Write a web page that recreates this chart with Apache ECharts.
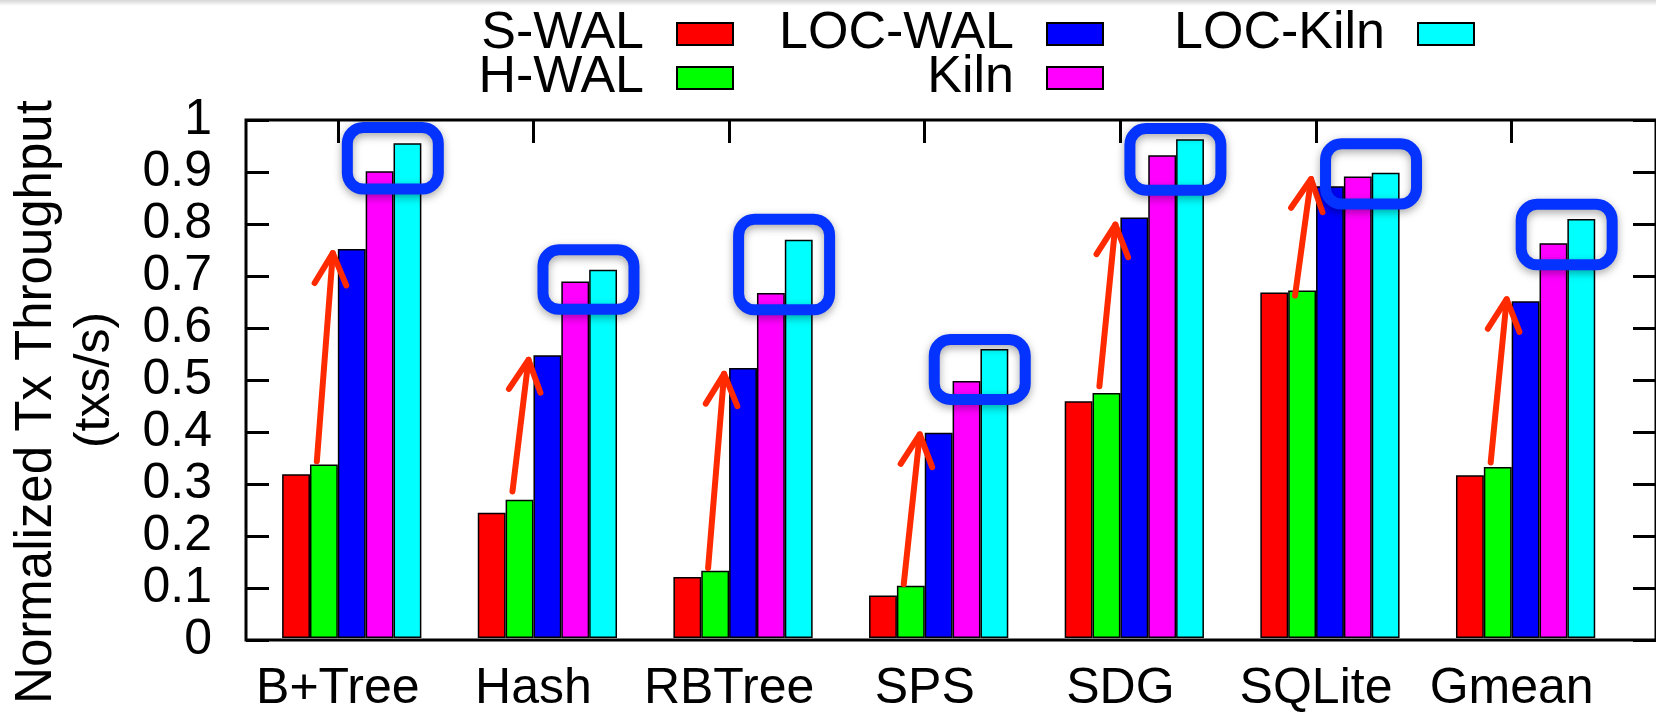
<!DOCTYPE html>
<html>
<head>
<meta charset="utf-8">
<script src="https://cdn.jsdelivr.net/npm/echarts@6/dist/echarts.min.js"></script>
<style>
html,body{margin:0;padding:0;background:#fff;}
#main{width:1656px;height:714px;}
</style>
</head>
<body>
<div id="main"></div>
<script>
// data
var categories = ['B+Tree', 'Hash', 'RBTree', 'SPS', 'SDG', 'SQLite', 'Gmean'];
var sWal    = [0.316, 0.242, 0.118, 0.082, 0.457, 0.667, 0.314];
var hWal    = [0.335, 0.267, 0.130, 0.101, 0.473, 0.671, 0.330];
var locWal  = [0.751, 0.546, 0.521, 0.396, 0.812, 0.872, 0.650];
var kiln    = [0.901, 0.688, 0.666, 0.496, 0.932, 0.891, 0.762];
var locKiln = [0.955, 0.711, 0.769, 0.558, 0.963, 0.898, 0.809];

// annotations (in data units): red arrows and blue boxes
var arrowFrom = [0.341, 0.283, 0.135, 0.104, 0.486, 0.661, 0.339];
var arrowTo   = [0.743, 0.537, 0.510, 0.393, 0.798, 0.886, 0.654];
var boxTop    = [0.996, 0.760, 0.819, 0.587, 0.994, 0.965, 0.848];
var boxBottom = [0.856, 0.624, 0.623, 0.450, 0.854, 0.827, 0.710];

var font = '"Liberation Sans", Arial, Helvetica, sans-serif';
var barW = 27.85;

function barSeries(name, data, color) {
    return {
        name: name, type: 'bar', xAxisIndex: 0, yAxisIndex: 0,
        data: data, barWidth: barW, barGap: '0%',
        itemStyle: {color: color, borderColor: '#000', borderWidth: 1.5},
        emphasis: {disabled: true}
    };
}

function legendItem(name, right, top) {
    return {
        data: [name], right: right, top: top, align: 'right', icon: 'rect',
        itemWidth: 56, itemHeight: 22, padding: 0, selectedMode: false,
        textStyle: {fontSize: 52, fontFamily: font, color: '#000', lineHeight: 50, padding: [0, 28, 0, 0]}
    };
}

var myChart = echarts.init(document.getElementById('main'));
var option = {
    animation: false,
    backgroundColor: '#fff',
    legend: [
        legendItem('S-WAL', 922, 8),
        legendItem('H-WAL', 922, 52),
        legendItem('LOC-WAL', 552, 8),
        legendItem('Kiln', 552, 52),
        legendItem('LOC-Kiln', 181, 8)
    ],
    grid: [
        {left: 240, right: 46.5, top: 120, bottom: 74},
        {left: 242, right: -2, top: 120, bottom: 74, show: true,
         borderColor: '#000', borderWidth: 3, backgroundColor: 'transparent'}
    ],
    xAxis: [
        {type: 'category', gridIndex: 0, data: categories, position: 'bottom',
         axisLine: {show: false}, axisTick: {show: false},
         axisLabel: {interval: 0, fontSize: 50, fontFamily: font, color: '#000', margin: 26}},
        {type: 'category', gridIndex: 0, data: categories, position: 'top',
         axisLine: {show: false}, axisLabel: {show: false},
         axisTick: {show: true, interval: 0, inside: true, length: 23, alignWithLabel: true,
                    lineStyle: {color: '#000', width: 3}}},
        {type: 'value', gridIndex: 1, show: false, min: 0, max: 1}
    ],
    yAxis: [
        {type: 'value', gridIndex: 0, min: 0, max: 1, show: false},
        {type: 'value', gridIndex: 1, min: 0, max: 1, interval: 0.1, position: 'left',
         axisLine: {show: false}, splitLine: {show: false},
         axisTick: {show: true, inside: true, length: 23, lineStyle: {color: '#000', width: 3}},
         axisLabel: {fontSize: 50, fontFamily: font, color: '#000', margin: 34},
         name: '{a|Normalized Tx Throughput}\n{b|(txs/s)}', nameLocation: 'middle', nameRotate: 90, nameGap: 122,
         nameTextStyle: {fontSize: 50, fontFamily: font, color: '#000', lineHeight: 58,
             rich: {
                 a: {fontSize: 51, fontFamily: font, color: '#000', lineHeight: 58, padding: [0, 44, 0, 0]},
                 b: {fontSize: 50, fontFamily: font, color: '#000', lineHeight: 58}
             }}},
        {type: 'value', gridIndex: 1, min: 0, max: 1, interval: 0.1, position: 'right',
         axisLine: {show: false}, splitLine: {show: false}, axisLabel: {show: false},
         axisTick: {show: true, inside: true, length: 23, lineStyle: {color: '#000', width: 3}}}
    ],
    graphic: [{
        type: 'rect', left: 0, top: 0, silent: true,
        shape: {width: 1656, height: 6},
        style: {fill: new echarts.graphic.LinearGradient(0, 0, 0, 1, [
            {offset: 0, color: 'rgba(0,0,0,0.16)'}, {offset: 1, color: 'rgba(0,0,0,0)'}])}
    }],
    series: [
        // empty slot so the group sits right of the tick like gnuplot
        {name: 'spacer', type: 'bar', xAxisIndex: 0, yAxisIndex: 0, data: [], barWidth: barW, barGap: '0%'},
        barSeries('S-WAL', sWal, '#ff0000'),
        barSeries('H-WAL', hWal, '#00ff00'),
        barSeries('LOC-WAL', locWal, '#0000ff'),
        barSeries('Kiln', kiln, '#ff00ff'),
        barSeries('LOC-Kiln', locKiln, '#00ffff'),
        {
            type: 'custom', xAxisIndex: 0, yAxisIndex: 0, z: 10, clip: false, silent: true,
            data: categories.map(function (c, i) {
                return [i, arrowFrom[i], arrowTo[i], boxTop[i], boxBottom[i]];
            }),
            renderItem: function (params, api) {
                var i = api.value(0);
                var tail = api.coord([i, api.value(1)]);
                var head = api.coord([i, api.value(2)]);
                var top = api.coord([i, api.value(3)]);
                var bot = api.coord([i, api.value(4)]);
                var cx = tail[0];
                var x1 = cx - 21, y1 = tail[1], x2 = cx - 5, y2 = head[1];
                var ang = Math.atan2(y2 - y1, x2 - x1);
                var L = 35, a = 0.47;
                var p1 = [x2 - L * Math.cos(ang - a), y2 - L * Math.sin(ang - a)];
                var p2 = [x2 - L * Math.cos(ang + a), y2 - L * Math.sin(ang + a)];
                var sw = 11;
                return {type: 'group', children: [
                    {type: 'line', shape: {x1: x1, y1: y1, x2: x2, y2: y2},
                     style: {stroke: '#ff2a00', lineWidth: 6, lineCap: 'round'}},
                    {type: 'polyline', shape: {points: [p1, [x2, y2], p2]},
                     style: {stroke: '#ff2a00', lineWidth: 6, lineCap: 'round', lineJoin: 'round', fill: 'none'}},
                    {type: 'rect',
                     shape: {x: cx + 4 + sw / 2, y: top[1] + sw / 2, width: 102 - sw, height: bot[1] - top[1] - sw, r: 16},
                     style: {stroke: '#0433ff', lineWidth: sw, fill: 'none',
                             shadowBlur: 8, shadowColor: 'rgba(0,0,0,0.35)', shadowOffsetY: 3}}
                ]};
            }
        }
    ]
};
myChart.setOption(option);
</script>
</body>
</html>
